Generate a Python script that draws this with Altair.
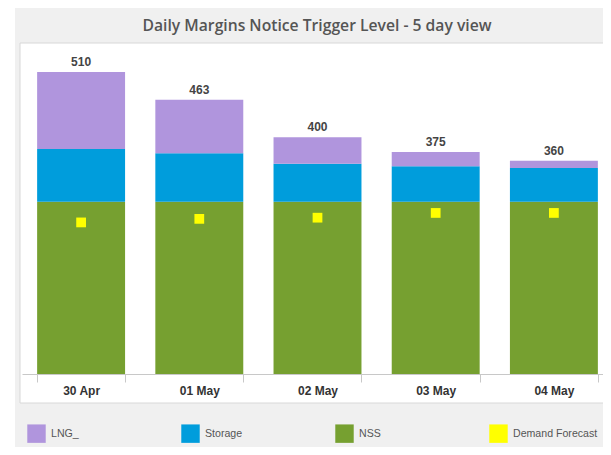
import altair as alt
import pandas as pd

days = ["30 Apr", "01 May", "02 May", "03 May", "04 May"]
nss = [291, 291, 291, 291, 291]
storage = [89, 82, 64, 60, 57]
lng = [130, 90, 45, 24, 12]
demand = [256, 262, 264, 272, 272]

series_names = ["LNG_", "Storage", "NSS", "Demand Forecast"]
series_colors = ["#b095dd", "#009ddc", "#76a030", "#ffff00"]
title_text = "Daily Margins Notice Trigger Level - 5 day view"

rows = []
for i, d in enumerate(days):
    for name, vals, order in (("NSS", nss, 0), ("Storage", storage, 1), ("LNG_", lng, 2)):
        rows.append({"day": d, "series": name, "value": vals[i], "order": order})
bars_df = pd.DataFrame(rows)
tot_df = pd.DataFrame({"day": days, "total": [a + b + c for a, b, c in zip(nss, storage, lng)]})
dem_df = pd.DataFrame({"day": days, "value": demand, "series": ["Demand Forecast"] * len(days)})
one = pd.DataFrame({"a": [0]})

x_enc = alt.X(
    "day:N", sort=days, title=None,
    scale=alt.Scale(range=[0, 591], paddingInner=0.256, paddingOuter=0.128),
    axis=alt.Axis(labelFontWeight="bold", labelFontSize=12, labelFont="Liberation Sans",
                  labelColor="#333333", domainColor="#c8c8c8", tickColor="#c8c8c8",
                  tickSize=8, tickBand="extent", labelPadding=3, labelAngle=0, zindex=1),
)
y_scale = alt.Scale(domain=[0, 559])

color_enc = alt.Color(
    "series:N",
    scale=alt.Scale(domain=series_names, range=series_colors),
    legend=alt.Legend(title=None, orient="none", legendX=5, legendY=381, direction="horizontal",
                      columns=4, gridAlign="all", columnPadding=45, symbolType="square",
                      symbolSize=340, symbolStrokeWidth=0, labelFont="Liberation Sans",
                      labelFontSize=10.6, labelColor="#555555", labelOffset=5, symbolOpacity=1),
)

grey = alt.Chart(one).mark_rect(color="#f0f0f0").encode(
    x=alt.value(-7), x2=alt.value(581), y=alt.value(-35), y2=alt.value(404))
white = alt.Chart(one).mark_rect(color="white", stroke="#d8d8d8", strokeWidth=1).encode(
    x=alt.value(-2), x2=alt.value(590), y=alt.value(0), y2=alt.value(360))

bars = alt.Chart(bars_df).mark_bar(opacity=1).encode(
    x=x_enc,
    y=alt.Y("value:Q", stack="zero", scale=y_scale, axis=None),
    color=color_enc,
    order=alt.Order("order:Q", sort="ascending"),
)

points = alt.Chart(dem_df).mark_square(size=95, opacity=1, filled=True).encode(
    x=x_enc,
    y=alt.Y("value:Q", scale=y_scale, axis=None),
    color=color_enc,
)

totals = alt.Chart(tot_df).mark_text(dy=-6, baseline="alphabetic", fontWeight="bold", fontSize=12,
                                      font="Liberation Sans", color="#444444").encode(
    x=x_enc,
    y=alt.Y("total:Q", scale=y_scale, axis=None),
    text="total:Q",
)

title = alt.Chart(one).mark_text(align="center", baseline="middle", font="Open Sans",
                                 fontSize=15.7, fontWeight=600, color="#555555").encode(
    x=alt.value(295), y=alt.value(-17), text=alt.value(title_text))

chart = alt.layer(grey, white, bars, points, totals, title).properties(
    width=581, height=331,
    padding={"left": 14, "top": 35, "right": 0, "bottom": 73},
    autosize="none",
    background="white",
).configure_view(strokeWidth=0)

chart.save("out.html", embed_options={"renderer": "svg", "actions": False})
